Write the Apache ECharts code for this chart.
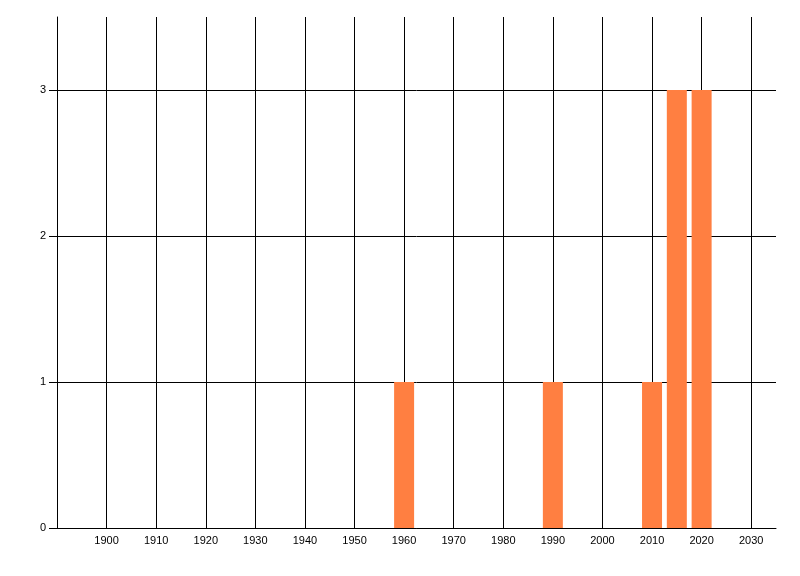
<!DOCTYPE html>
<html>
<head>
<meta charset="utf-8">
<script src="https://cdn.jsdelivr.net/npm/echarts@6/dist/echarts.min.js"></script>
<style>
  html, body { margin: 0; padding: 0; background: #fff; }
  #chart { width: 800px; height: 576px; }
</style>
</head>
<body>
<div id="chart"></div>
<script>
// years with counts
const years = [1960, 1990, 2010, 2015, 2020]
const counts = [1, 1, 1, 3, 3]
const yTicks = [0, 1, 2, 3]

const chart = echarts.init(document.getElementById('chart'))

const lineStyle = { color: '#000', width: 1 }
const labelFont = { color: '#000', fontSize: 11, fontFamily: 'Liberation Sans, Arial, sans-serif' }

const option = {
  animation: false,
  grid: { left: 57, right: 24, top: 17, bottom: 48, containLabel: false },
  xAxis: {
    type: 'value',
    min: 1890,
    max: 2035,
    interval: 10,
    axisLine: { show: true, onZero: false, lineStyle: lineStyle },
    axisTick: { show: false },
    axisLabel: Object.assign({
      margin: 7,
      showMinLabel: false,
      formatter: v => (v === 1890 || v === 2035) ? '' : String(v)
    }, labelFont),
    splitLine: { show: true, showMinLine: true, showMaxLine: false, lineStyle: lineStyle }
  },
  yAxis: {
    type: 'value',
    min: 0,
    max: 3.5,
    interval: 1,
    axisLine: { show: true, lineStyle: lineStyle },
    axisTick: { show: true, length: 8, customValues: yTicks, lineStyle: lineStyle },
    axisLabel: Object.assign({
      margin: 11,
      customValues: yTicks
    }, labelFont),
    splitLine: { show: true, showMaxLine: true, lineStyle: lineStyle }
  },
  series: [
    {
      type: 'bar',
      barWidth: 20,
      itemStyle: { color: '#ff7f41' },
      data: years.map((y, i) => [y, counts[i]])
    }
  ]
}

chart.setOption(option)
</script>
</body>
</html>
